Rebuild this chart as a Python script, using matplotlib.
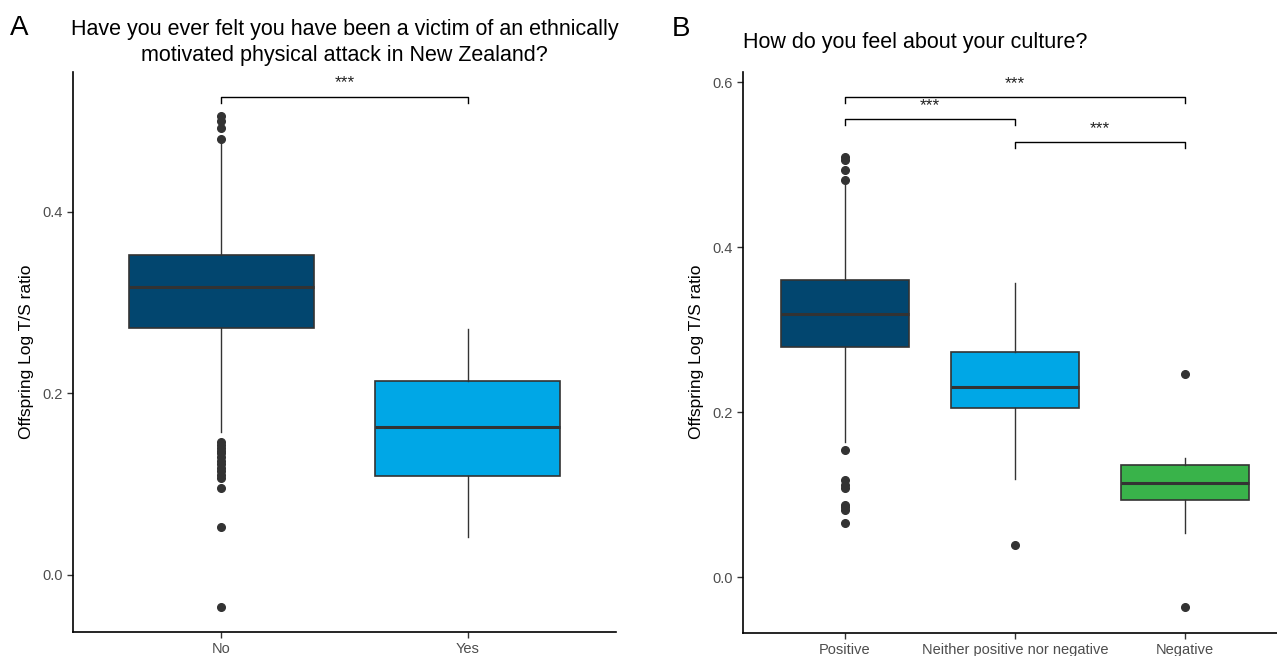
import matplotlib
matplotlib.use("Agg")
import matplotlib.pyplot as plt

plt.rcParams["font.family"] = ["Liberation Sans Narrow", "Liberation Sans", "DejaVu Sans"]

# Panel A: victim of an ethnically motivated physical attack
a_groups = ["No", "Yes"]
a_q1 = [0.272, 0.109]
a_med = [0.317, 0.163]
a_q3 = [0.353, 0.214]
a_whislo = [0.157, 0.042]
a_whishi = [0.476, 0.271]
a_fliers = [
    [0.506, 0.500, 0.493, 0.480,
     0.146, 0.143, 0.140, 0.137, 0.134, 0.130, 0.126, 0.122,
     0.118, 0.114, 0.110, 0.107, 0.096, 0.053, -0.036],
    [],
]
a_colors = ["#02466F", "#00A7E6"]

# Panel B: feelings about own culture
b_groups = ["Positive", "Neither positive nor negative", "Negative"]
b_q1 = [0.279, 0.205, 0.094]
b_med = [0.319, 0.231, 0.115]
b_q3 = [0.360, 0.273, 0.136]
b_whislo = [0.164, 0.119, 0.054]
b_whishi = [0.476, 0.357, 0.145]
b_fliers = [
    [0.510, 0.506, 0.494, 0.482,
     0.154, 0.118, 0.112, 0.108, 0.088, 0.085, 0.082, 0.066],
    [0.039],
    [0.246, -0.036],
]
b_colors = ["#02466F", "#00A7E6", "#39B34A"]

# significance brackets: (left group, right group, bracket height)
a_sig = [(1, 2, 0.527)]
b_sig = [(1, 3, 0.5825), (1, 2, 0.5555), (2, 3, 0.528)]

EDGE = "#333333"
TICK = "#4D4D4D"


def stats(q1, med, q3, lo, hi, fliers):
    return [dict(q1=a, med=m, q3=b, whislo=l, whishi=h, fliers=f)
            for a, m, b, l, h, f in zip(q1, med, q3, lo, hi, fliers)]


def draw_boxes(ax, st, colors):
    parts = ax.bxp(
        st, positions=range(1, len(st) + 1), widths=0.75, patch_artist=True,
        showcaps=False,
        boxprops=dict(edgecolor=EDGE, linewidth=1.2),
        whiskerprops=dict(color=EDGE, linewidth=1.0),
        medianprops=dict(color=EDGE, linewidth=2.2),
        flierprops=dict(marker="o", markerfacecolor=EDGE, markeredgecolor=EDGE,
                        markersize=5.5, linestyle="none"),
    )
    for patch, c in zip(parts["boxes"], colors):
        patch.set_facecolor(c)


def draw_brackets(ax, sig, drop, gap):
    for x1, x2, y in sig:
        ax.plot([x1, x1, x2, x2], [y - drop, y, y, y - drop],
                color="black", linewidth=1.0)
        ax.text((x1 + x2) / 2, y + gap, "***", ha="center", va="center",
                fontsize=12.5, color="#222222")


def style(ax, labels, yticks):
    for side in ("top", "right"):
        ax.spines[side].set_visible(False)
    for side in ("left", "bottom"):
        ax.spines[side].set_linewidth(1.2)
        ax.spines[side].set_color("black")
    ax.set_xticks(range(1, len(labels) + 1))
    ax.set_xticklabels(labels)
    ax.set_yticks(yticks)
    ax.yaxis.set_major_formatter(matplotlib.ticker.FormatStrFormatter("%.1f"))
    ax.tick_params(colors=TICK, labelsize=10.5, length=4, width=1)
    ax.tick_params(axis="both", color="#333333")
    ax.set_ylabel("Offspring Log T/S ratio", fontsize=12.5, labelpad=6)


fig = plt.figure(figsize=(12.77, 6.56), dpi=100)

ax1 = fig.add_axes([0.0572, 0.0366, 0.4252, 0.8534])
draw_boxes(ax1, stats(a_q1, a_med, a_q3, a_whislo, a_whishi, a_fliers), a_colors)
draw_brackets(ax1, a_sig, 0.007, 0.016)
style(ax1, a_groups, [0.0, 0.2, 0.4])
ax1.set_xlim(0.4, 2.6)
ax1.set_ylim(-0.063, 0.554)
ax1.set_title("Have you ever felt you have been a victim of an ethnically\n"
              "motivated physical attack in New Zealand?",
              fontsize=15.5, pad=8, linespacing=1.3)

ax2 = fig.add_axes([0.5818, 0.0355, 0.426, 0.8552])
draw_boxes(ax2, stats(b_q1, b_med, b_q3, b_whislo, b_whishi, b_fliers), b_colors)
draw_brackets(ax2, b_sig, 0.0075, 0.016)
style(ax2, b_groups, [0.0, 0.2, 0.4, 0.6])
ax2.set_xlim(0.4, 3.6)
ax2.set_ylim(-0.067, 0.613)
ax2.set_title("How do you feel about your culture?", fontsize=15.5,
              loc="left", pad=17)

fig.text(0.008, 0.958, "A", fontsize=20, va="center", ha="left")
fig.text(0.526, 0.956, "B", fontsize=20, va="center", ha="left")

fig.savefig("out.png", dpi=100)
plt.close(fig)
